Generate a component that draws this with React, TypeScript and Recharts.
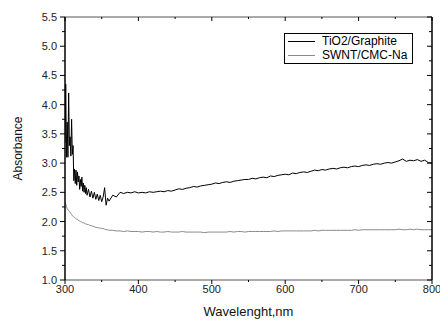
import { LineChart, Line, XAxis, YAxis, Legend, Label } from "recharts";

const wavelength = [
  300, 301, 302, 303, 304, 305, 306, 307, 308, 309, 310, 311, 312, 313, 314, 315, 316, 317, 318, 319, 320,
  321, 322, 323, 324, 325, 326, 327, 328, 329, 330,
  332, 334, 336, 338, 340, 342, 344, 346, 348, 350, 352, 354, 356, 358, 360,
  365, 370, 375, 380, 385, 390, 395, 400, 405, 410, 415, 420, 425, 430, 435, 440, 445, 450, 455, 460,
  465, 470, 475, 480, 485, 490, 495, 500, 505, 510, 515, 520, 525, 530, 535, 540, 545, 550, 555, 560,
  565, 570, 575, 580, 585, 590, 595, 600, 605, 610, 615, 620, 625, 630, 635, 640, 645, 650, 655, 660,
  665, 670, 675, 680, 685, 690, 695, 700, 705, 710, 715, 720, 725, 730, 735, 740, 745, 750, 755, 760,
  765, 770, 775, 780, 785, 790, 795, 800,
];

const tio2Graphite = [
  3.35, 4.35, 3.1, 3.7, 3.1, 4.2, 3.3, 3.45, 3.12, 3.75, 3.15,
  3.3, 2.7, 2.9, 2.65, 2.88, 2.62, 2.85, 2.68, 2.78, 2.55,
  2.72, 2.6, 2.76, 2.52, 2.66, 2.5, 2.62, 2.48, 2.58, 2.45,
  2.55, 2.42, 2.52, 2.4, 2.5, 2.38, 2.47, 2.36, 2.45, 2.34, 2.42, 2.58, 2.28, 2.4, 2.35,
  2.45, 2.42, 2.5, 2.48, 2.5, 2.49, 2.51, 2.49, 2.5, 2.49,
  2.51, 2.5, 2.51, 2.52, 2.51, 2.53, 2.52, 2.54, 2.56, 2.55,
  2.57, 2.58, 2.6, 2.59, 2.61, 2.62, 2.63, 2.64, 2.66, 2.65,
  2.67, 2.68, 2.67, 2.69, 2.7, 2.71, 2.72, 2.72, 2.74, 2.73,
  2.75, 2.76, 2.75, 2.78, 2.77, 2.79, 2.8, 2.81, 2.8, 2.83,
  2.82, 2.84, 2.85, 2.84, 2.86, 2.88, 2.87, 2.89, 2.88, 2.9,
  2.91, 2.9, 2.92, 2.93, 2.92, 2.94, 2.95, 2.94, 2.96, 2.97,
  2.96, 2.98, 2.99, 2.98, 3.0, 3.01, 3.0, 3.02, 3.04, 3.07,
  3.03, 3.05, 3.04, 3.06, 3.03, 3.05, 3.01, 3.0,
];

const swntCmcNa = [
  2.33, 2.3, 2.26, 2.22, 2.2, 2.19, 2.17, 2.16, 2.14, 2.12, 2.1,
  2.09, 2.08, 2.07, 2.06, 2.05, 2.04, 2.04, 2.02, 2.02, 2.01,
  2.0, 2.0, 1.99, 1.98, 1.98, 1.97, 1.97, 1.96, 1.96, 1.95,
  1.95, 1.93, 1.93, 1.92, 1.91, 1.9, 1.9, 1.89, 1.89, 1.88, 1.88, 1.87, 1.86, 1.86, 1.85,
  1.85, 1.84, 1.84, 1.83, 1.84, 1.83, 1.83, 1.83, 1.82, 1.83,
  1.83, 1.82, 1.83, 1.82, 1.82, 1.83, 1.82, 1.82, 1.82, 1.83,
  1.82, 1.82, 1.82, 1.82, 1.82, 1.81, 1.82, 1.82, 1.82, 1.82,
  1.82, 1.82, 1.83, 1.82, 1.83, 1.83, 1.82, 1.83, 1.83, 1.83,
  1.83, 1.83, 1.83, 1.83, 1.84, 1.83, 1.84, 1.84, 1.84, 1.84,
  1.84, 1.84, 1.84, 1.84, 1.84, 1.85, 1.84, 1.85, 1.85, 1.85,
  1.85, 1.85, 1.85, 1.85, 1.85, 1.85, 1.86, 1.85, 1.86, 1.86,
  1.86, 1.86, 1.86, 1.86, 1.86, 1.86, 1.86, 1.86, 1.87, 1.86,
  1.86, 1.87, 1.86, 1.87, 1.86, 1.86, 1.86, 1.86,
];

const seriesNames = ["TiO2/Graphite", "SWNT/CMC-Na"];
const seriesColors = ["#000000", "#8a8a8a"];

const xTicks = [300, 350, 400, 450, 500, 550, 600, 650, 700, 750, 800];
const yTicks = [1.0, 1.25, 1.5, 1.75, 2.0, 2.25, 2.5, 2.75, 3.0, 3.25, 3.5, 3.75, 4.0, 4.25, 4.5, 4.75, 5.0, 5.25, 5.5];

const data = wavelength.map((w, i) => ({ w, tio2: tio2Graphite[i], swnt: swntCmcNa[i] }));

const FONT = "'Liberation Sans', Arial, sans-serif";

const isMajorX = (v: number) => v % 100 === 0;
const isMajorY = (v: number) => Math.abs(v * 2 - Math.round(v * 2)) < 1e-6;

const LeftTick = (props: any) => {
  const { x, y, payload } = props;
  const major = isMajorY(payload.value);
  return (
    <g>
      <line x1={x - (major ? 5 : 3)} x2={x} y1={y} y2={y} stroke="#000" />
      {major && (
        <text x={x - 8} y={y} textAnchor="end" dominantBaseline="central" fontSize={11} fill="#222" fontFamily={FONT}>
          {payload.value.toFixed(1)}
        </text>
      )}
    </g>
  );
};

const RightTick = (props: any) => {
  const { x, y, payload } = props;
  const major = isMajorY(payload.value);
  return <line x1={x - (major ? 5 : 3)} x2={x} y1={y} y2={y} stroke="#000" />;
};

const BottomTick = (props: any) => {
  const { x, y, payload } = props;
  const major = isMajorX(payload.value);
  return (
    <g>
      <line x1={x} x2={x} y1={y} y2={y + (major ? 4 : 2)} stroke="#000" />
      {major && (
        <text x={x} y={y + 13} textAnchor="middle" fontSize={11} fill="#222" fontFamily={FONT}>
          {payload.value}
        </text>
      )}
    </g>
  );
};

const TopTick = (props: any) => {
  const { x, y, payload } = props;
  const major = isMajorX(payload.value);
  return <line x1={x} x2={x} y1={y} y2={y + (major ? 4 : 2)} stroke="#000" />;
};

const LegendBox = () => (
  <div
    style={{
      border: "1px solid #000",
      background: "#fff",
      width: 127,
      height: 27,
      fontFamily: FONT,
      fontSize: 12,
      lineHeight: "13.5px",
      paddingTop: 1,
      paddingBottom: 1,
      boxSizing: "content-box",
      whiteSpace: "nowrap",
    }}
  >
    {seriesNames.map((name, i) => (
      <div key={name} style={{ display: "flex", alignItems: "center", height: 13.5 }}>
        <span style={{ display: "inline-block", width: 27, marginLeft: 3, borderTop: `1px solid ${seriesColors[i]}` }} />
        <span style={{ marginLeft: 7, color: "#000" }}>{name}</span>
      </div>
    ))}
  </div>
);

export default function App() {
  return (
    <div style={{ position: "absolute", left: 0, top: 0, background: "#fff" }}>
      <LineChart width={440} height={320} data={data} margin={{ top: 16, right: 7, bottom: 0, left: 0 }}>
        <XAxis
          dataKey="w"
          type="number"
          domain={[300, 800]}
          ticks={xTicks}
          interval={0}
          height={40}
          tickSize={0}
          tickMargin={0}
          tickLine={false}
          tick={<BottomTick />}
          axisLine={{ stroke: "#555" }}
          allowDataOverflow
        >
          <Label
            content={(p: any) => {
              const vb = p.viewBox;
              return (
                <text x={vb.x + vb.width / 2} y={vb.y + 36} textAnchor="middle" fontSize={13} fill="#111" fontFamily={FONT}>
                  Wavelenght,nm
                </text>
              );
            }}
          />
        </XAxis>
        <XAxis
          xAxisId="top"
          orientation="top"
          dataKey="w"
          type="number"
          domain={[300, 800]}
          ticks={xTicks}
          interval={0}
          height={1}
          tickSize={0}
          tickMargin={0}
          tickLine={false}
          tick={<TopTick />}
          axisLine={{ stroke: "#555" }}
          allowDataOverflow
        />
        <YAxis
          type="number"
          domain={[1, 5.5]}
          ticks={yTicks}
          interval={0}
          width={65}
          tickSize={0}
          tickMargin={0}
          tickLine={false}
          tick={<LeftTick />}
          axisLine={{ stroke: "#000", strokeWidth: 1.5 }}
          allowDataOverflow
        >
          <Label
            content={(p: any) => {
              const vb = p.viewBox;
              const cx = vb.x + 18;
              const cy = vb.y + vb.height / 2;
              return (
                <text
                  x={cx}
                  y={cy}
                  transform={`rotate(-90 ${cx} ${cy})`}
                  textAnchor="middle"
                  dominantBaseline="central"
                  fontSize={12}
                  fill="#111"
                  fontFamily={FONT}
                >
                  Absorbance
                </text>
              );
            }}
          />
        </YAxis>
        <YAxis
          yAxisId="right"
          orientation="right"
          type="number"
          domain={[1, 5.5]}
          ticks={yTicks}
          interval={0}
          width={1}
          tickSize={0}
          tickMargin={0}
          tickLine={false}
          tick={<RightTick />}
          axisLine={{ stroke: "#000", strokeWidth: 1.5 }}
          allowDataOverflow
        />
        <Legend
          layout="vertical"
          align="center"
          verticalAlign="middle"
          content={<LegendBox />}
          wrapperStyle={{ position: "absolute", left: 284, top: 33, width: "auto", height: "auto" }}
        />
        <Line
          dataKey="tio2"
          name={seriesNames[0]}
          stroke={seriesColors[0]}
          strokeWidth={1}
          dot={false}
          type="linear"
          isAnimationActive={false}
        />
        <Line
          dataKey="swnt"
          name={seriesNames[1]}
          stroke={seriesColors[1]}
          strokeWidth={1}
          dot={false}
          type="linear"
          isAnimationActive={false}
        />
      </LineChart>
    </div>
  );
}
